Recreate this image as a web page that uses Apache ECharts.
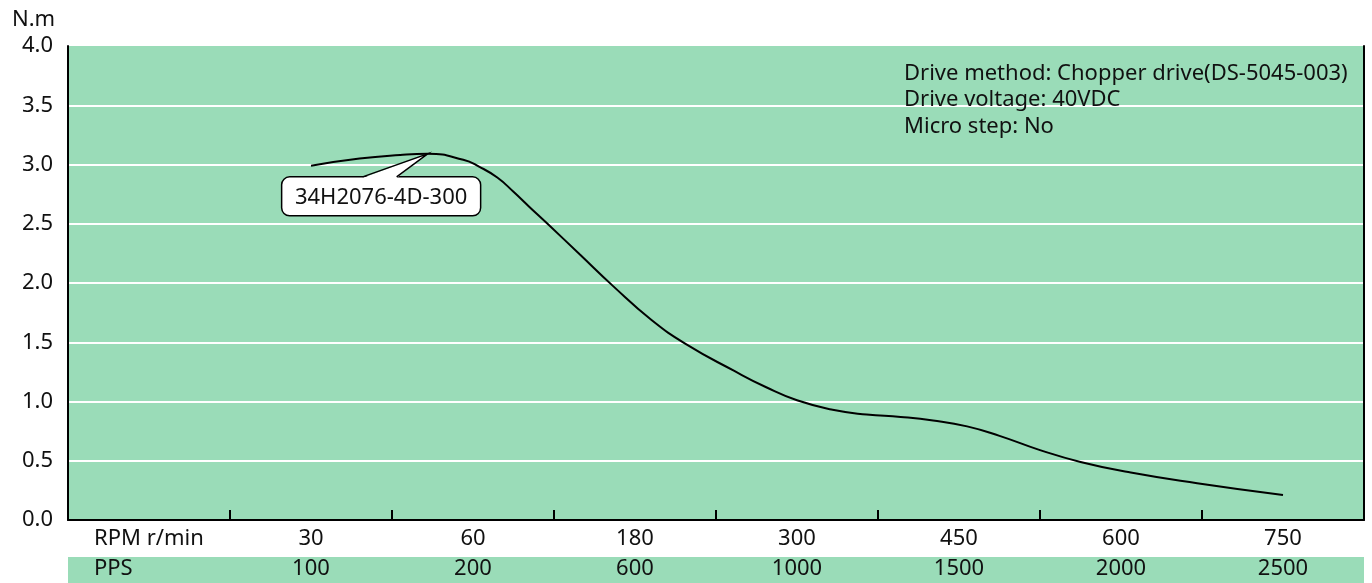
<!DOCTYPE html>
<html>
<head>
<meta charset="utf-8">
<script src="https://cdn.jsdelivr.net/npm/echarts@6/dist/echarts.min.js"></script>
<style>
html,body{margin:0;padding:0;background:#fff;}
#c{width:1372px;height:583px;}
</style>
</head>
<body>
<div id="c"></div>
<script>
// Tick / category labels
const rpmLabels = ['RPM r/min', '30', '60', '180', '300', '450', '600', '750'];
const ppsLabels = ['PPS', '100', '200', '600', '1000', '1500', '2000', '2500'];
const yTicks = [0, 0.5, 1.0, 1.5, 2.0, 2.5, 3.0, 3.5, 4.0];
// Curve samples: position along the category axis (category k is centered at k+0.5) and torque (N.m)
const curvePos = [1.5, 1.8, 2.05, 2.22, 2.44, 2.54, 2.65, 2.75, 2.85, 2.96, 3.16, 3.36, 3.6, 3.82, 4.11, 4.31, 4.5, 4.72, 4.93, 5.14, 5.34, 5.55, 5.75, 6.0, 6.25, 6.56, 6.97, 7.5];
const torque   = [2.99, 3.05, 3.08, 3.09, 3.04, 2.98, 2.89, 2.77, 2.64, 2.50, 2.24, 1.98, 1.69, 1.48, 1.26, 1.12, 1.01, 0.93, 0.89, 0.87, 0.84, 0.79, 0.71, 0.59, 0.49, 0.40, 0.31, 0.21];
const seriesName = '34H2076-4D-300';
const calloutAnchor = [2.22, 3.09];
const infoLines = ['Drive method: Chopper drive(DS-5045-003)', 'Drive voltage: 40VDC', 'Micro step: No'];

const FONT = 'Noto Sans';
const FS = 22;
const GREEN = '#9adcb8';
const chart = echarts.init(document.getElementById('c'), null, {renderer: 'canvas'});

const option = {
  animation: false,
  textStyle: {fontFamily: FONT},
  title: [
    {text: 'N.m', left: 7, top: 4, textStyle: {fontFamily: FONT, fontSize: FS, fontWeight: 'normal', color: '#111'}},
    {text: infoLines.join('\n'), left: 899, top: 55, textStyle: {fontFamily: FONT, fontSize: FS, fontWeight: 'normal', color: '#111', lineHeight: 26.5}}
  ],
  grid: {left: 68, right: 8, top: 46, bottom: 63, show: true, backgroundColor: GREEN, borderWidth: 0},
  xAxis: [
    {
      type: 'value', min: 0, max: 8, interval: 1,
      axisLine: {show: true, onZero: false, lineStyle: {color: '#000', width: 2}},
      axisTick: {show: true, inside: true, length: 10, lineStyle: {color: '#000', width: 2}},
      axisLabel: {show: false}, splitLine: {show: false}
    },
    {
      type: 'category', data: rpmLabels, position: 'bottom', boundaryGap: true,
      axisLine: {show: false}, axisTick: {show: false}, splitLine: {show: false},
      axisLabel: {margin: 8, fontFamily: FONT, fontSize: FS, color: '#111', interval: 0}
    },
    {
      type: 'category', data: ppsLabels, position: 'bottom', offset: 38, boundaryGap: true,
      axisLine: {show: false}, axisTick: {show: false}, splitLine: {show: false},
      axisLabel: {
        margin: 0, fontFamily: FONT, fontSize: FS, color: '#111', interval: 0,
        formatter: (v, i) => i === 0 ? '{l|' + v + '}' : v,
        rich: {l: {width: 110, align: 'left', fontFamily: FONT, fontSize: FS, color: '#111'}}
      }
    }
  ],
  yAxis: [
    {
      type: 'value', min: yTicks[0], max: yTicks[yTicks.length - 1], interval: 0.5,
      axisLine: {show: true, lineStyle: {color: '#000', width: 2}},
      axisTick: {show: false},
      axisLabel: {margin: 15, fontFamily: FONT, fontSize: FS, color: '#111', formatter: v => v.toFixed(1)},
      splitLine: {show: true, showMinLine: false, showMaxLine: false, lineStyle: {color: '#fff', width: 2}}
    },
    {
      type: 'value', min: 0, max: 4, position: 'right',
      axisLine: {show: true, lineStyle: {color: '#000', width: 2}},
      axisTick: {show: false}, axisLabel: {show: false}, splitLine: {show: false}
    }
  ],
  series: [{
    name: seriesName, type: 'line', xAxisIndex: 0, yAxisIndex: 0,
    data: curvePos.map((p, i) => [p, torque[i]]),
    smooth: 0.5, showSymbol: false, symbol: 'none',
    lineStyle: {color: '#000', width: 2}
  }]
};
chart.setOption(option);

// PPS band and callout box pointing to the curve
const gl = chart.convertToPixel({xAxisIndex: 0}, 0);
const gr = chart.convertToPixel({xAxisIndex: 0}, 8);
const tip = chart.convertToPixel({xAxisIndex: 0, yAxisIndex: 0}, calloutAnchor);
const bx = tip[0] - 146, by = tip[1] + 23, bw = 199, bh = 39;
chart.setOption({
  graphic: [
    {type: 'rect', z: -10, silent: true, shape: {x: gl, y: 557, width: gr - gl, height: 26}, style: {fill: GREEN}},
    {type: 'rect', z: 100, shape: {x: bx, y: by, width: bw, height: bh, r: 8}, style: {fill: '#fff', stroke: '#000', lineWidth: 1.5}},
    {type: 'polygon', z: 101, shape: {points: [[bx + 81, by + 1.2], [tip[0], tip[1]], [bx + 115, by + 1.2]]}, style: {fill: '#fff'}},
    {type: 'polyline', z: 102, shape: {points: [[bx + 81, by], [tip[0], tip[1]], [bx + 115, by]]}, style: {fill: null, stroke: '#000', lineWidth: 1.5}},
    {type: 'text', z: 103, style: {x: bx + bw / 2, y: by + bh / 2 + 1, text: seriesName, font: FS + 'px "' + FONT + '"', fill: '#111', textAlign: 'center', textVerticalAlign: 'middle'}}
  ]
});
</script>
</body>
</html>
